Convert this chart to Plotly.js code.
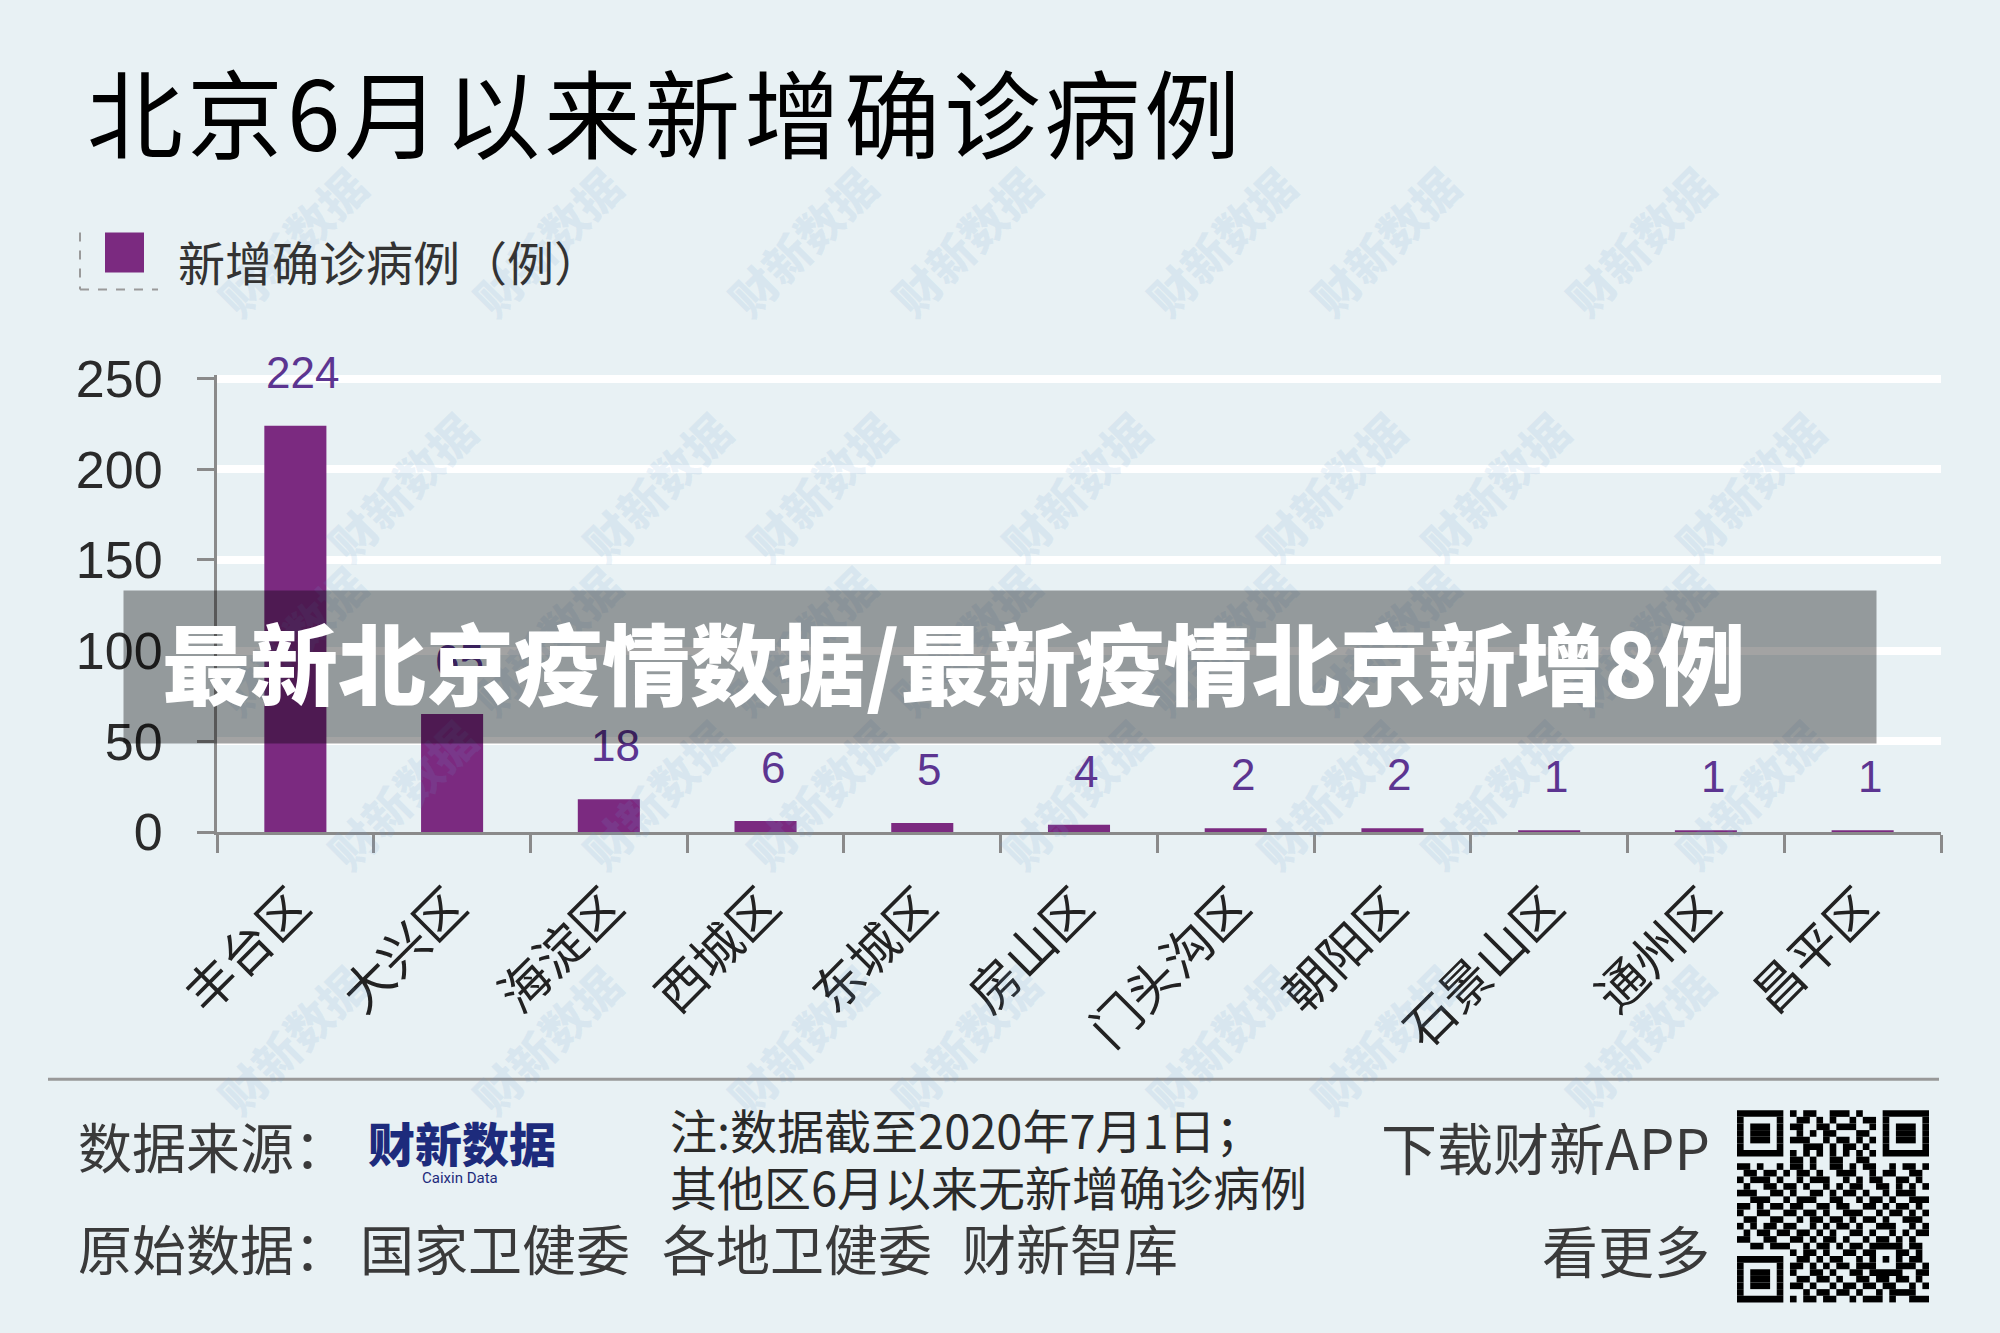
<!DOCTYPE html>
<html><head><meta charset="utf-8">
<script src="https://cdn.plot.ly/plotly-3.0.1.min.js"></script>
<style>
html,body{margin:0;padding:0;background:#e8f1f4;}
#chart{width:2000px;height:1333px;}
.gtitle{letter-spacing:4px;}
</style></head><body><div id="chart"></div>
<script>
// ---- data ----
const districts = ['丰台区','大兴区','海淀区','西城区','东城区','房山区','门头沟区','朝阳区','石景山区','通州区','昌平区'];
const newCases = [224, 65, 18, 6, 5, 4, 2, 2, 1, 1, 1];
const yTickVals = [0, 50, 100, 150, 200, 250];
const chartTitle = '北京6月以来新增确诊病例';
const legendLabel = '新增确诊病例（例）';
const bannerText = '最新北京疫情数据/最新疫情北京新增8例';
const noteLines = ['注:数据截至2020年7月1日；', '其他区6月以来无新增确诊病例'];
const sourceLabel = '数据来源：';
const logoText = '财新数据';
const logoSub = 'Caixin Data';
const rawLabel = '原始数据：';
const rawSources = ['国家卫健委', '各地卫健委', '财新智库'];
const appLines = ['下载财新APP', '看更多'];
const watermarkText = '财新数据';
const qrRows = [
 '1111111010110011101000' + '1111111',
 '1000001001101010010110' + '1000001',
 '1011101011001101110010' + '1011101',
 '1011101001010110001100' + '1011101',
 '1011101011100101101010' + '1011101',
 '1000001000111010110100' + '1000001',
 '1111111010101010101010' + '1111111',
 '0000000011010011001100' + '0000000',
 '110100' + '1' + '0110100110101100101101',
 '011011' + '0' + '1011010011100101100110',
 '101110' + '1' + '0010111001010110011010',
 '010011' + '0' + '1101001010110011010101',
 '111001' + '1' + '0100110101101001011100',
 '001110' + '0' + '1011100110010110100111',
 '110101' + '1' + '0110011011001101011010',
 '100110' + '0' + '1101101001110010110101',
 '011001' + '1' + '0010110110101101001110',
 '101011' + '0' + '1100101011010011100101',
 '010110' + '1' + '1011010100110100101011',
 '110011' + '0' + '0110101101001011010100',
 '001101' + '1' + '1001011010110' + '11111' + '0110',
 '00000000' + '101101001101' + '10001' + '1010',
 '1111111' + '0' + '011010110010' + '10101' + '0110',
 '1000001' + '0' + '110101011011' + '10001' + '1101',
 '1011101' + '0' + '100110100110' + '11111' + '0011',
 '1011101' + '0' + '011011010011' + '01101' + '1010',
 '1011101' + '0' + '110100101101' + '10110' + '0101',
 '1000001' + '0' + '001011011010' + '01011' + '1100',
 '1111111' + '0' + '101101100101' + '11010' + '0111'
];

// ---- styling ----
const BG = '#e8f1f4';
const BAR = '#7b2a80';
const LABEL = '#5c3591';
const CJK = '"Noto Sans CJK SC", "Noto Sans", sans-serif';
const LAT = '"Liberation Sans", Arial, sans-serif';

// plot area in pixels; y range runs slightly past 250 so its gridline is drawn
const YMAX = 252;
const PL = 217, PR = 1941, PB = 832, PX_PER = 453 / 250;
const PT = PB - YMAX * PX_PER;
const X = px => (px - PL) / (PR - PL);
const Y = py => (PB - py) / (PB - PT);

const shapes = [];
const annotations = [];

// watermarks (faint)
for (let r = 0; r < 5; r++) {
  for (let c = 0; c < 7; c++) {
    const cx = 200 + c * 255 + (r % 2) * 110;
    const cy = 150 + r * 245;
    if (cx > 1880) continue;
    annotations.push({xref:'paper', yref:'paper', x:X(cx), y:Y(cy), text:watermarkText,
      showarrow:false, textangle:-45, font:{family:CJK, size:46, weight:900, color:'rgba(110,160,210,0.12)'}});
  }
}

// value labels
districts.forEach((d, i) => {
  annotations.push({x:d, y:newCases[i], xref:'x', yref:'y', text:String(newCases[i]),
    showarrow:false, yanchor:'bottom', yshift:27, xshift:7,
    font:{family:LAT, size:44, color:LABEL}});
});

// legend
shapes.push({type:'rect', xref:'paper', yref:'paper', x0:X(105), x1:X(144), y0:Y(273), y1:Y(233), fillcolor:BAR, line:{width:0}});
shapes.push({type:'line', xref:'paper', yref:'paper', x0:X(80), x1:X(80), y0:Y(233), y1:Y(290), line:{color:'#9a9a9a', width:2, dash:'dash'}});
shapes.push({type:'line', xref:'paper', yref:'paper', x0:X(80), x1:X(158), y0:Y(290), y1:Y(290), line:{color:'#9a9a9a', width:2, dash:'dash'}});
annotations.push({xref:'paper', yref:'paper', x:X(176), y:Y(261), xanchor:'left', yanchor:'middle', text:legendLabel,
  showarrow:false, font:{family:CJK, size:47, color:'#333'}});

// banner overlay
annotations.push({xref:'paper', yref:'paper', x:X(123), y:Y(590), xanchor:'left', yanchor:'top', text:'&nbsp;',
  showarrow:false, width:1752, height:152, borderpad:0, bgcolor:'rgba(0,0,0,0.36)', font:{size:10}});
annotations.push({xref:'paper', yref:'paper', x:X(160), y:Y(660), xanchor:'left', yanchor:'middle', text:bannerText,
  showarrow:false, font:{family:CJK, size:88, weight:900, color:'#ffffff'}});

// footer
shapes.push({type:'line', xref:'paper', yref:'paper', x0:X(48), x1:X(1939), y0:Y(1079), y1:Y(1079), line:{color:'#999', width:3}});
const foot = (txt, x, y, opts) => annotations.push(Object.assign({xref:'paper', yref:'paper', x:X(x), y:Y(y),
  xanchor:'left', yanchor:'middle', text:txt, showarrow:false, font:{family:CJK, size:54, color:'#3a3a3a'}}, opts || {}));
foot(sourceLabel, 76, 1145);
foot(logoText, 462, 1141, {xanchor:'center', font:{family:CJK, size:47, weight:900, color:'#1d2b7c'}});
foot(logoSub, 460, 1178, {xanchor:'center', font:{family:'Roboto, sans-serif', size:15, color:'#1d2b7c'}});
foot(noteLines[0], 668, 1128, {font:{family:CJK, size:47, color:'#2a2a2a'}});
foot(noteLines[1], 668, 1185, {font:{family:CJK, size:47, color:'#2a2a2a'}});
foot(rawLabel, 76, 1247);
foot(rawSources[0], 358, 1247);
foot(rawSources[1], 660, 1247);
foot(rawSources[2], 960, 1247);
foot(appLines[0], 1712, 1145, {xanchor:'right', font:{family:CJK, size:56, color:'#3a3a3a'}});
foot(appLines[1], 1712, 1248, {xanchor:'right', font:{family:CJK, size:56, color:'#3a3a3a'}});

// QR code
const qx = 1737, qy = 1110, qs = 192, n = qrRows.length, cell = qs / n;
qrRows.forEach((row, r) => {
  let c = 0;
  while (c < row.length) {
    if (row[c] === '1') {
      let e = c; while (e < row.length && row[e] === '1') e++;
      shapes.push({type:'rect', xref:'paper', yref:'paper', x0:X(qx + c*cell), x1:X(qx + e*cell),
        y0:Y(qy + (r+1)*cell), y1:Y(qy + r*cell), fillcolor:'#000', line:{width:0}});
      c = e;
    } else c++;
  }
});

const trace = {type:'bar', x:districts, y:newCases, marker:{color:BAR}, hoverinfo:'skip', showlegend:false};

const layout = {
  width:2000, height:1333,
  margin:{l:PL, r:2000-PR, t:PT, b:1333-PB, pad:0},
  paper_bgcolor:BG, plot_bgcolor:BG,
  bargap:0.604,
  showlegend:false,
  title:{text:chartTitle, x:87/2000, xanchor:'left', xref:'container', y:1-117/1333, yanchor:'middle', yref:'container',
    font:{family:CJK, size:96, color:'#000'}},
  xaxis:{type:'category', showline:true, linecolor:'#8a8a8a', linewidth:3, ticks:'outside', tickson:'boundaries',
    ticklen:18, tickwidth:3, tickcolor:'#8a8a8a', tickangle:-45, showgrid:false, zeroline:false,
    ticklabelstandoff:22, tickfont:{family:CJK, size:50, color:'#222'}, fixedrange:true},
  yaxis:{range:[0,YMAX], tickvals:yTickVals, showline:true, linecolor:'#8a8a8a', linewidth:3, ticks:'outside',
    ticklen:17, tickwidth:3, tickcolor:'#8a8a8a', showgrid:true, gridcolor:'#ffffff', gridwidth:8, zeroline:false,
    ticklabelstandoff:24, tickfont:{family:LAT, size:52, color:'#2a2a2a'}, fixedrange:true},
  shapes:shapes,
  annotations:annotations
};

Plotly.newPlot('chart', [trace], layout, {staticPlot:true, displayModeBar:false});
</script></body></html>
